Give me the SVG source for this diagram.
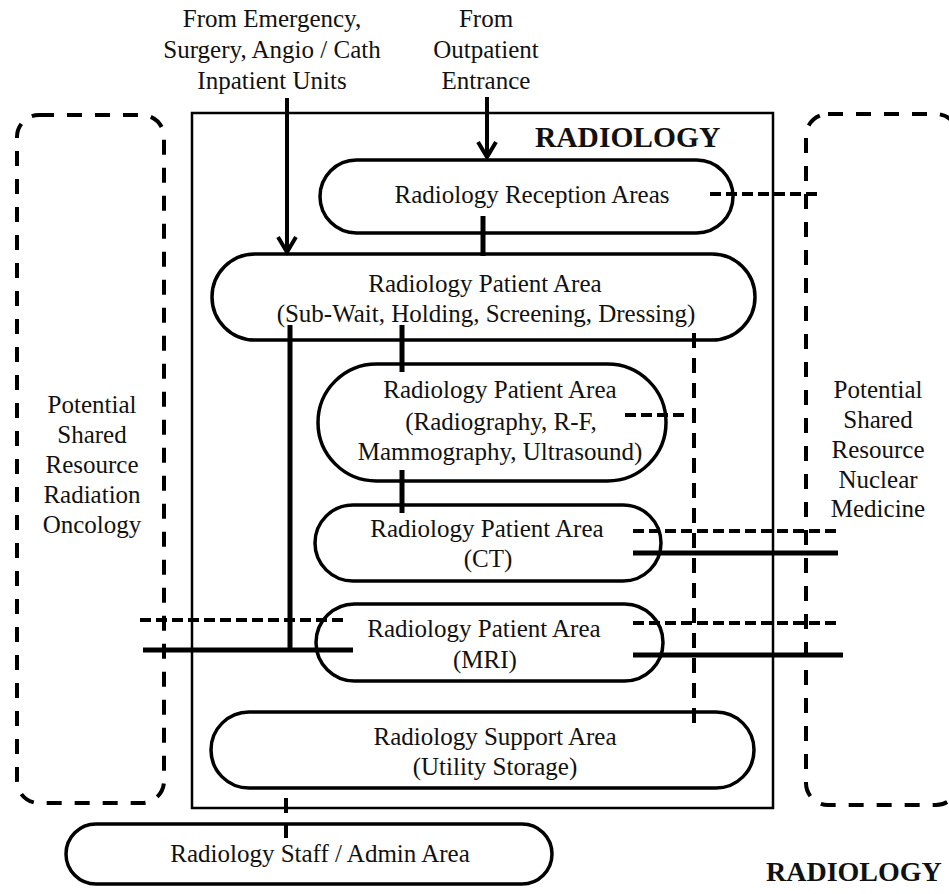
<svg xmlns="http://www.w3.org/2000/svg" width="949" height="894" viewBox="0 0 949 894">
  <style>
    text { font-family: "Liberation Serif", "Times New Roman", serif; font-size: 25px; fill: #111; text-anchor: middle; }
    .title { font-weight: bold; font-size: 29.5px; text-anchor: start; }
    .node { fill: #fff; stroke: #000; stroke-width: 3.5; }
    .frame { fill: none; stroke: #000; stroke-width: 2.5; }
    .shared { fill: none; stroke: #000; stroke-width: 4; stroke-dasharray: 15 13; }
    .solid { stroke: #000; stroke-width: 5; fill: none; }
    .flow { stroke: #000; stroke-width: 4; fill: none; }
    .dashh { stroke: #000; stroke-width: 4; stroke-dasharray: 11 5; fill: none; }
    .dashv { stroke: #000; stroke-width: 4; stroke-dasharray: 15 10; fill: none; }
  </style>

  <rect width="949" height="894" fill="#fff"/>

  <!-- department frame -->
  <g id="radiology-frame">
    <rect class="frame" x="192" y="113" width="581" height="695"/>
    <text class="title" x="535" y="147">RADIOLOGY</text>
  </g>

  <!-- shared resources either side -->
  <g id="radiation-oncology">
    <rect class="shared" x="17" y="115" width="147" height="688" rx="22"/>
    <text x="92" y="413">Potential</text>
    <text x="92" y="443">Shared</text>
    <text x="92" y="473">Resource</text>
    <text x="92" y="503">Radiation</text>
    <text x="92" y="533">Oncology</text>
  </g>
  <g id="nuclear-medicine">
    <rect class="shared" x="806" y="114" width="152" height="691" rx="22"/>
    <text x="878" y="398">Potential</text>
    <text x="878" y="428">Shared</text>
    <text x="878" y="458">Resource</text>
    <text x="878" y="488">Nuclear</text>
    <text x="878" y="517">Medicine</text>
  </g>

  <!-- incoming flows -->
  <g id="from-emergency">
    <text x="272" y="27">From Emergency,</text>
    <text x="272" y="58">Surgery, Angio / Cath</text>
    <text x="272" y="89">Inpatient Units</text>
  </g>
  <g id="from-outpatient">
    <text x="486" y="27">From</text>
    <text x="486" y="58">Outpatient</text>
    <text x="486" y="89">Entrance</text>
  </g>

  <!-- areas -->
  <g id="reception">
    <rect class="node" x="320" y="160" width="413" height="73" rx="36.5"/>
    <text x="532" y="203">Radiology Reception Areas</text>
  </g>
  <g id="patient-area">
    <rect class="node" x="212" y="254" width="543" height="86" rx="43"/>
    <text x="485" y="292">Radiology Patient Area</text>
    <text x="486" y="322">(Sub-Wait, Holding, Screening, Dressing)</text>
  </g>
  <g id="radiography">
    <rect class="node" x="318" y="364" width="348" height="117" rx="58.5"/>
    <text x="500" y="398">Radiology Patient Area</text>
    <text x="501" y="430">(Radiography, R-F,</text>
    <text x="500" y="460">Mammography, Ultrasound)</text>
  </g>
  <g id="ct">
    <rect class="node" x="315" y="505" width="346" height="76" rx="38"/>
    <text x="487" y="537">Radiology Patient Area</text>
    <text x="488" y="567">(CT)</text>
  </g>
  <g id="mri">
    <rect class="node" x="316" y="604" width="347" height="77" rx="38.5"/>
    <text x="484" y="637">Radiology Patient Area</text>
    <text x="485" y="668">(MRI)</text>
  </g>
  <g id="support">
    <rect class="node" x="211" y="712" width="543" height="76" rx="38"/>
    <text x="495" y="745">Radiology Support Area</text>
    <text x="495" y="775">(Utility Storage)</text>
  </g>
  <g id="staff-admin">
    <rect class="node" x="66" y="824" width="486" height="60" rx="30"/>
    <text x="320" y="862">Radiology Staff / Admin Area</text>
  </g>
  <g id="legend-title">
    <text class="title" x="766" y="881" style="font-size:28px">RADIOLOGY</text>
  </g>

  <!-- connectors -->
  <g id="connectors">
    <!-- arrows in -->
    <line class="flow" x1="287" y1="98" x2="287" y2="251"/>
    <polyline class="flow" points="278,237 287,252 296,237"/>
    <line class="flow" x1="487" y1="97" x2="487" y2="156"/>
    <polyline class="flow" points="478,142 487,157 496,142"/>

    <!-- solid links -->
    <line class="solid" x1="483" y1="216" x2="483" y2="256"/>
    <line class="solid" x1="402" y1="325" x2="402" y2="372"/>
    <line class="solid" x1="402" y1="470" x2="402" y2="513"/>
    <line class="solid" x1="290" y1="325" x2="290" y2="652"/>
    <line class="solid" x1="143" y1="650" x2="353" y2="650"/>
    <line class="solid" x1="633" y1="553" x2="838" y2="553"/>
    <line class="solid" x1="633" y1="655" x2="843" y2="655"/>

    <!-- dashed links -->
    <line class="dashh" x1="710" y1="194" x2="822" y2="194"/>
    <line class="dashh" x1="625" y1="415" x2="687" y2="415"/>
    <line class="dashv" x1="694" y1="333" x2="694" y2="730"/>
    <line class="dashh" x1="140" y1="620" x2="347" y2="620"/>
    <line class="dashh" x1="633" y1="531" x2="840" y2="531"/>
    <line class="dashh" x1="633" y1="623" x2="840" y2="623"/>
    <line class="dashv" x1="286" y1="798" x2="286" y2="846"/>
  </g>
</svg>
